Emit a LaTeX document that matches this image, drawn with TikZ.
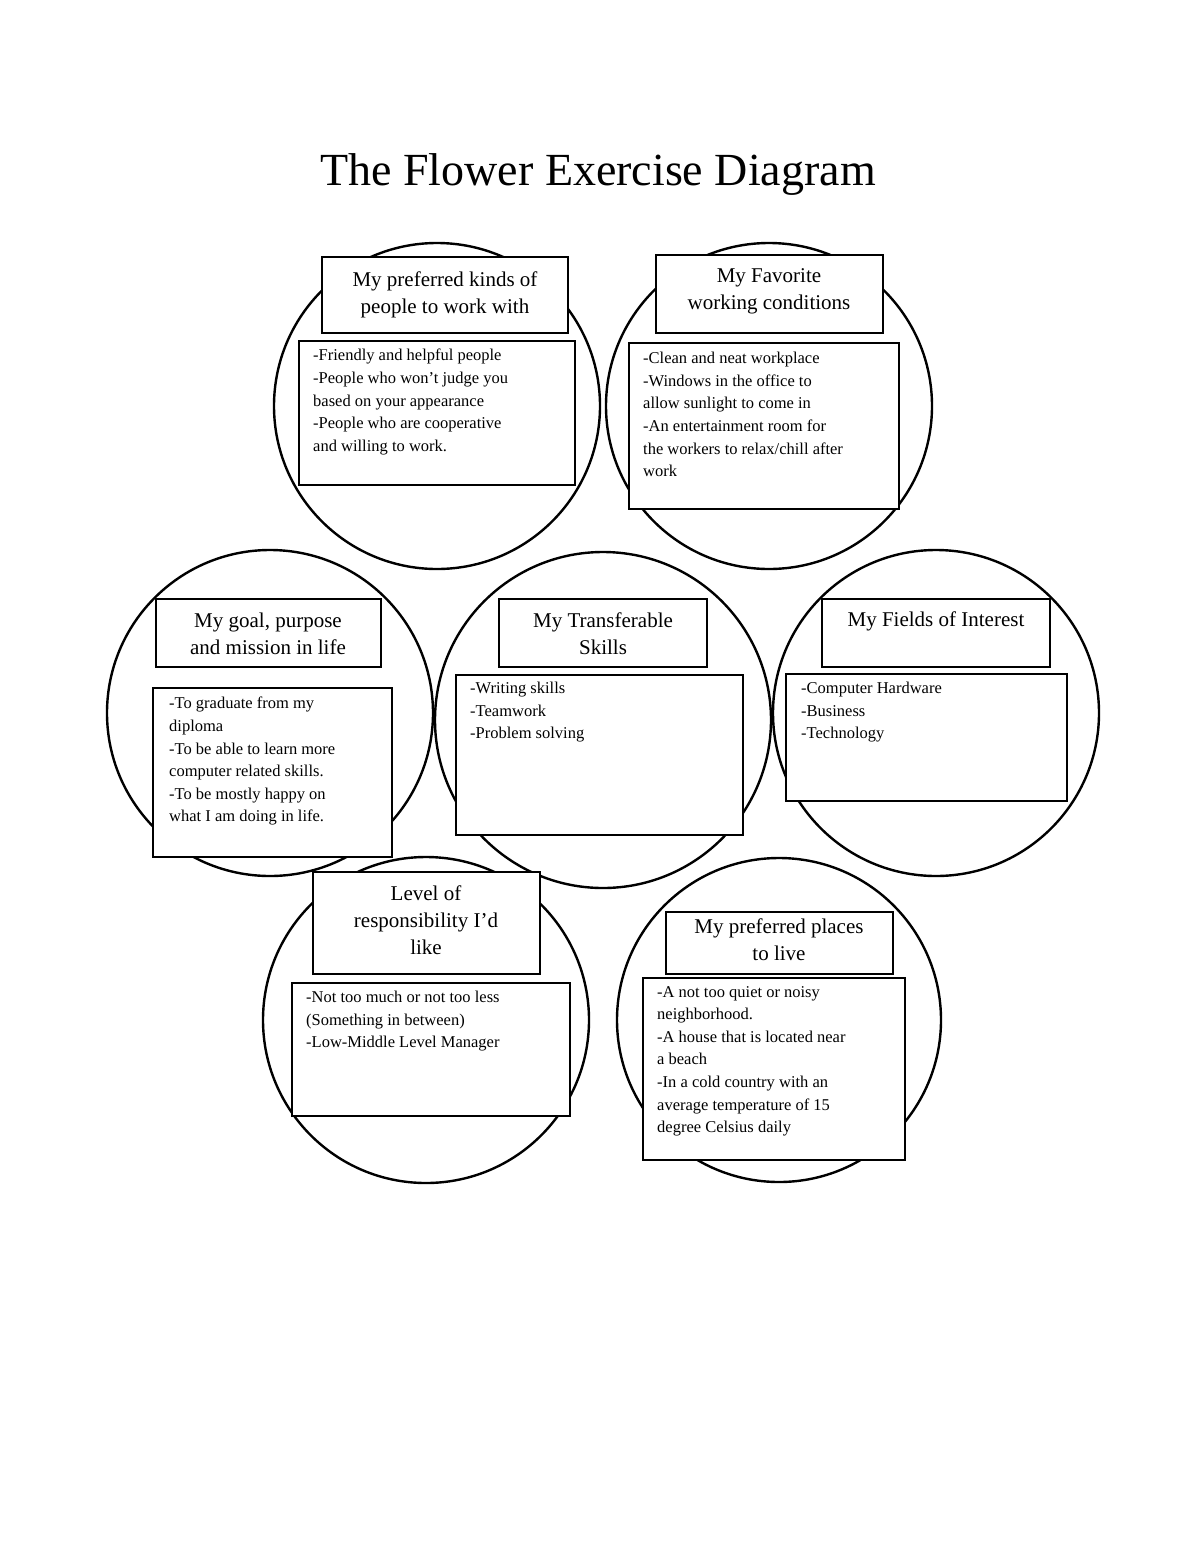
\documentclass[tikz,border=0pt]{standalone}
\usepackage{fontspec}
\setmainfont{Liberation Serif}
\begin{document}
\begin{tikzpicture}[x=1pt,y=-1pt,
  petal/.style={draw,line width=2.4pt},
  box/.style={draw,line width=2.4pt,fill=white},
  ttl/.style={align=center,font=\fontsize{21}{27}\selectfont,inner sep=0pt},
  txt/.style={align=left,anchor=north west,font=\fontsize{16.5}{22.6}\selectfont,inner sep=0pt}]
\useasboundingbox[fill=white] (0,0) rectangle (1200,1553);
\node[font=\fontsize{46}{50}\selectfont] (title) at (598,175) {The Flower Exercise Diagram};
\draw[petal] (437,406) circle (163);
\draw[petal] (769,406) circle (163);
\draw[petal] (270,713) circle (163);
\draw[petal] (603,720) circle (168);
\draw[petal] (936,713) circle (163);
\draw[petal] (426,1020) circle (163);
\draw[petal] (779,1020) circle (162);
% 1
\draw[box] (322,257) rectangle (568,333); \node[ttl] (t1) at (445,295) {My preferred kinds of\\people to work with};
\draw[box] (299,341) rectangle (575,485); \node[txt] (c1) at (313,349) {-Friendly and helpful people\\-People who won’t judge you\\based on your appearance\\-People who are cooperative\\and willing to work.};
% 2
\draw[box] (656,255) rectangle (883,333); \node[ttl] (t2) at (769,291) {My Favorite\\working conditions};
\draw[box] (629,343) rectangle (899,509); \node[txt] (c2) at (643,352) {-Clean and neat workplace\\-Windows in the office to\\allow sunlight to come in\\-An entertainment room for\\the workers to relax/chill after\\work};
% 3
\draw[box] (156,599) rectangle (381,667); \node[ttl] (t3) at (268,634) {My goal, purpose\\and mission in life};
\draw[box] (153,688) rectangle (392,857); \node[txt] (c3) at (169,697) {-To graduate from my\\diploma\\-To be able to learn more\\computer related skills.\\-To be mostly happy on\\what I am doing in life.};
% 4
\draw[box] (499,599) rectangle (707,667); \node[ttl] (t4) at (603,634) {My Transferable\\Skills};
\draw[box] (456,675) rectangle (743,835); \node[txt] (c4) at (470,682) {-Writing skills\\-Teamwork\\-Problem solving};
% 5
\draw[box] (822,599) rectangle (1050,667); \node[ttl] (t5) at (936,621) {My Fields of Interest};
\draw[box] (786,674) rectangle (1067,801); \node[txt] (c5) at (801,682) {-Computer Hardware\\-Business\\-Technology};
% 6
\draw[box] (313,872) rectangle (540,974); \node[ttl] (t6) at (426,920) {Level of\\responsibility I’d\\like};
\draw[box] (292,983) rectangle (570,1116); \node[txt] (c6) at (306,991) {-Not too much or not too less\\(Something in between)\\-Low-Middle Level Manager};
% 7
\draw[box] (666,912) rectangle (893,974); \node[ttl] (t7) at (779,940) {My preferred places\\to live};
\draw[box] (643,978) rectangle (905,1160); \node[txt] (c7) at (657,986) {-A not too quiet or noisy\\neighborhood.\\-A house that is located near\\a beach\\-In a cold country with an\\average temperature of 15\\degree Celsius daily};
\end{tikzpicture}
\end{document}
